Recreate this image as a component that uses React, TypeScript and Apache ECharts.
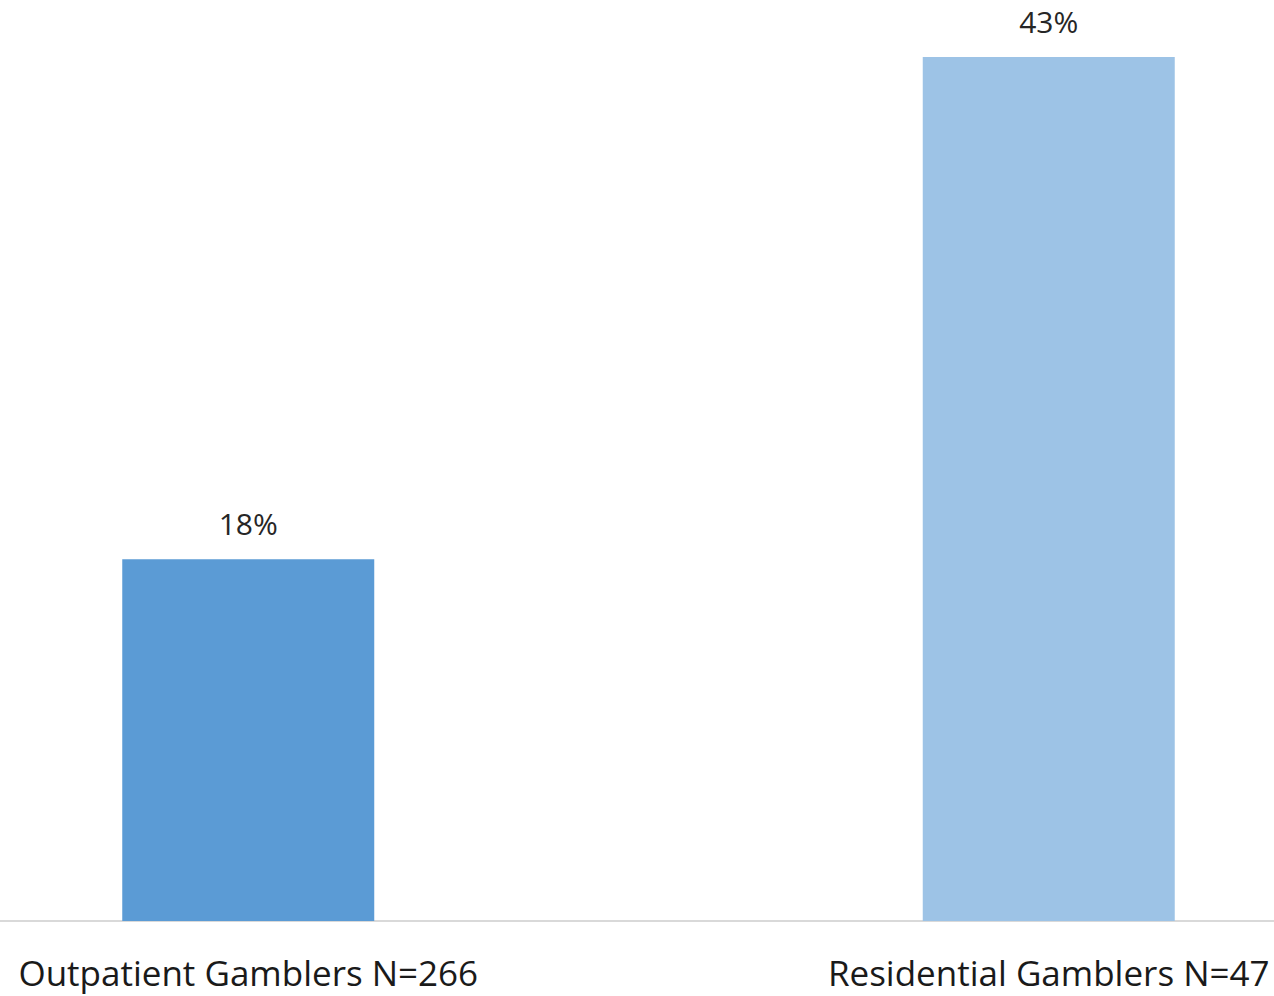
import React, { useEffect, useRef } from "react";
import * as echarts from "echarts";

const categories = ["Outpatient Gamblers N=266", "Residential Gamblers N=47"];
const values = [18, 43];
const barColors = ["#5b9bd5", "#9dc3e6"];

export default function App() {
  const ref = useRef<HTMLDivElement>(null);
  useEffect(() => {
    if (!ref.current) return;
    const chart = echarts.init(ref.current, undefined, { renderer: "svg" });
    chart.setOption({
      animation: false,
      backgroundColor: "#ffffff",
      grid: { left: 0, right: 0, top: 57, bottom: 75, containLabel: false },
      xAxis: {
        type: "category",
        data: categories,
        axisLine: { show: true, lineStyle: { color: "#d9d9d9", width: 2 } },
        axisTick: { show: false },
        axisLabel: {
          color: "#1a1a1a",
          fontFamily: "Open Sans",
          fontSize: 35,
          margin: 34,
          interval: 0,
        },
      },
      yAxis: {
        type: "value",
        min: 0,
        max: 43,
        show: false,
        splitLine: { show: false },
      },
      series: [
        {
          type: "bar",
          barWidth: 252,
          data: values.map((v, i) => ({ value: v, itemStyle: { color: barColors[i] } })),
          label: {
            show: true,
            position: "top",
            distance: 21,
            formatter: "{c}%",
            color: "#262626",
            fontFamily: "Open Sans",
            fontSize: 30,
          },
        },
      ],
    });
    return () => chart.dispose();
  }, []);
  return (
    <div style={{ position: "fixed", left: 0, top: 0, width: 1274, height: 996, overflow: "hidden", background: "#fff" }}>
      <div
        ref={ref}
        style={{ position: "absolute", left: -152.5, top: 0, width: 1601, height: 996 }}
      />
    </div>
  );
}
